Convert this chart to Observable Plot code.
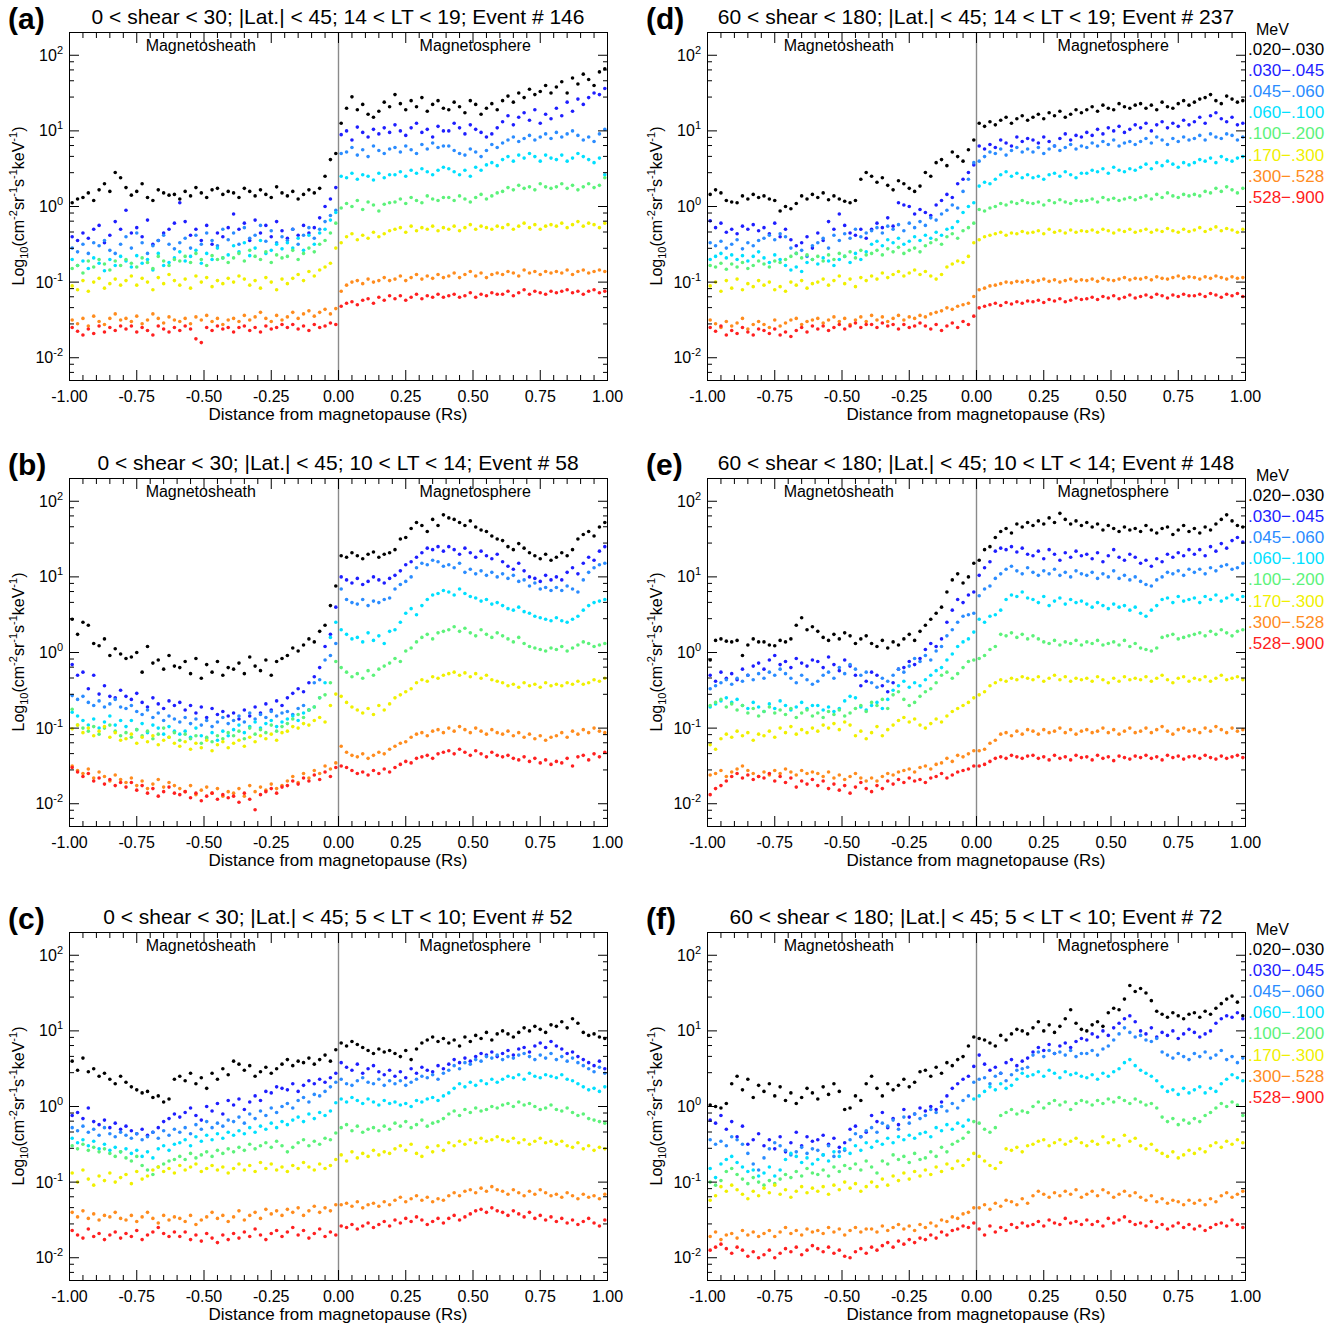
<!DOCTYPE html>
<html>
<head>
<meta charset="utf-8">
<script src="https://cdn.jsdelivr.net/npm/d3@7"></script>
<script src="https://cdn.jsdelivr.net/npm/@observablehq/plot@0.6"></script>
<style>
  body { margin: 0; background: #fff; }
  #fig { position: relative; width: 1340px; height: 1325px; }
  #fig svg { position: absolute; }
</style>
</head>
<body>
<div id="fig"></div>
<script>
// Electron flux binned by distance from the magnetopause (Rs), one row per energy band.
// Values are log10(flux) in hundredths of a decade, flux in cm^-2 sr^-1 s^-1 keV^-1.

const energyBands = [".020\u2212.030", ".030\u2212.045", ".045\u2212.060", ".060\u2212.100",
                     ".100\u2212.200", ".170\u2212.300", ".300\u2212.528", ".528\u2212.900"];
const bandColors = ["#000000", "#1e1eff", "#2a8cff", "#00e0ff", "#5cf27a", "#f0f000", "#ff8c1e", "#ff2020"];

const panelTags = ["(a)", "(b)", "(c)", "(d)", "(e)", "(f)"];
const panelTitles = [
  "0 < shear < 30; |Lat.| < 45; 14 < LT < 19; Event # 146",
  "0 < shear < 30; |Lat.| < 45; 10 < LT < 14; Event # 58",
  "0 < shear < 30; |Lat.| < 45; 5 < LT < 10; Event # 52",
  "60 < shear < 180; |Lat.| < 45; 14 < LT < 19; Event # 237",
  "60 < shear < 180; |Lat.| < 45; 10 < LT < 14; Event # 148",
  "60 < shear < 180; |Lat.| < 45; 5 < LT < 10; Event # 72"
];
const regionLabels = ["Magnetosheath", "Magnetosphere"];
const xTicks = [-1, -0.75, -0.5, -0.25, 0, 0.25, 0.5, 0.75, 1];
const yTicks = [0.01, 0.1, 1, 10, 100];
const yTickExponents = ["-2", "-1", "0", "1", "2"];

// (a) 0 < shear < 30, 14 < LT < 19
const fluxA = [
  [5,10,12,18,8,22,30,20,45,38, 25,15,20,30,12,8,22,18,15,16, 10,20,14,25,18,12,22,24,16,20, 18,12,24,20,14,22,16,12,26,18, 14,20,10,16,22,18,24,40,62,70,
   110,130,145,128,135,122,118,126,138,132, 148,136,128,140,132,144,126,135,140,130, 128,138,132,124,140,135,122,130,136,128, 140,146,138,150,144,155,148,152,160,150, 158,165,150,170,162,175,168,160,178,182],
  [-40,-45,-35,-42,-30,-25,-48,-38,-20,-30, -5,-35,-28,-40,-18,-50,-45,-35,-30,-22, 5,-20,-38,-30,-45,-25,-50,-35,-40,-28, -10,-30,-22,-45,-18,-35,-25,-40,-20,-32, -42,-30,-38,-25,-35,-28,-15,0,10,25,
   95,100,88,105,98,92,102,96,104,98, 108,100,94,104,110,98,102,92,106,100, 100,110,104,96,108,102,98,92,96,104, 112,120,108,118,124,114,128,110,122,116, 130,120,138,126,142,135,144,150,148,156],
  [-55,-60,-50,-62,-48,-52,-45,-58,-62,-50, -40,-55,-35,-48,-62,-52,-45,-38,-50,-56, -48,-42,-55,-38,-50,-35,-45,-52,-30,-44, -35,-50,-28,-42,-38,-25,-46,-32,-48,-40, -45,-30,-50,-38,-28,-42,-30,-20,-12,-5,
   70,72,78,68,75,66,80,74,70,76, 78,72,80,75,70,82,76,84,78,80, 80,74,70,68,76,72,66,74,82,78, 84,88,92,86,90,94,88,92,96,90, 98,92,96,100,94,88,92,86,96,102],
  [-70,-78,-72,-82,-68,-75,-85,-70,-78,-66, -72,-80,-65,-75,-70,-84,-62,-78,-74,-68, -60,-72,-66,-58,-75,-62,-70,-55,-68,-64, -52,-60,-48,-65,-55,-45,-62,-58,-50,-56, -48,-55,-42,-58,-38,-50,-35,-30,-18,-8,
   40,38,44,36,42,40,35,44,38,42, 42,46,40,48,44,50,46,42,48,52, 50,46,42,48,40,52,48,55,58,54, 62,66,60,68,64,70,66,60,68,64, 62,68,60,64,70,66,62,58,64,42],
  [-82,-78,-88,-72,-80,-70,-76,-84,-72,-78, -70,-75,-80,-68,-74,-82,-66,-72,-78,-70, -72,-66,-74,-62,-70,-78,-65,-70,-68,-74, -68,-62,-72,-58,-66,-70,-60,-74,-64,-68, -66,-58,-70,-62,-55,-60,-50,-45,-35,-22,
   -2,4,0,8,-4,6,2,-6,3,5, 6,10,4,12,8,5,14,10,8,12, 12,8,14,10,6,12,16,10,14,18, 20,25,22,28,24,26,22,30,26,24, 26,30,24,28,22,26,30,25,28,38],
  [-105,-110,-98,-112,-100,-95,-108,-102,-96,-104, -98,-92,-104,-95,-100,-110,-94,-102,-90,-98, -104,-96,-108,-92,-100,-94,-106,-98,-102,-95, -100,-92,-96,-104,-98,-108,-94,-100,-110,-96, -102,-95,-90,-98,-86,-92,-84,-80,-75,-55,
   -48,-40,-36,-44,-38,-42,-34,-40,-36,-32, -30,-28,-34,-26,-32,-28,-30,-26,-32,-28, -30,-26,-32,-28,-24,-30,-26,-28,-30,-26, -28,-24,-30,-26,-22,-28,-24,-30,-26,-24, -26,-22,-28,-24,-20,-26,-22,-24,-28,-22],
  [-150,-155,-148,-158,-145,-152,-156,-148,-142,-150, -148,-152,-145,-155,-150,-142,-148,-154,-146,-150, -152,-148,-155,-146,-150,-144,-152,-148,-156,-150, -148,-152,-144,-150,-146,-140,-148,-152,-144,-150, -146,-140,-148,-142,-138,-145,-140,-136,-142,-135,
   -112,-104,-100,-98,-102,-96,-100,-98,-94,-98, -96,-92,-98,-94,-90,-96,-92,-95,-90,-94, -92,-88,-94,-90,-86,-92,-88,-94,-90,-88, -90,-86,-88,-92,-84,-88,-86,-90,-86,-88, -86,-88,-84,-90,-86,-84,-88,-86,-84,-86],
  [-160,-165,-170,-162,-168,-158,-166,-160,-164,-158, -162,-158,-166,-160,-164,-170,-158,-162,-166,-160, -164,-158,-162,-175,-180,-160,-164,-158,-162,-160, -166,-160,-158,-164,-160,-166,-158,-162,-160,-156, -160,-156,-162,-158,-164,-156,-160,-158,-154,-156,
   -132,-128,-126,-130,-124,-122,-128,-120,-124,-118, -122,-118,-124,-120,-116,-122,-118,-120,-116,-120, -118,-116,-120,-118,-114,-120,-116,-118,-114,-116, -116,-112,-118,-114,-110,-116,-112,-114,-116,-112, -114,-112,-110,-114,-112,-116,-112,-110,-114,-112]
];

// (b) 0 < shear < 30, 10 < LT < 14
const fluxB = [
  [44,24,40,36,12,9,18,-4,5,-2, -8,-6,0,-26,8,-14,-10,-22,-4,-18, -20,-12,-28,-8,-34,-16,-26,-12,-30,-20, -22,-14,-28,-6,-18,-24,-10,-30,-12,-8, -4,6,2,10,18,14,28,36,62,88,
   128,126,132,128,124,130,133,126,130,132, 136,150,152,164,172,168,160,176,168,182, 178,176,172,168,174,166,162,160,154,150, 148,140,136,144,138,132,128,124,130,122, 126,132,128,136,150,156,160,154,166,172],
  [-16,-30,-26,-48,-30,-55,-44,-58,-60,-50, -58,-62,-54,-66,-72,-60,-68,-74,-64,-70, -66,-76,-70,-80,-72,-86,-74,-82,-78,-84, -80,-88,-76,-84,-72,-80,-68,-76,-64,-70, -60,-54,-48,-52,-40,-32,-20,8,24,60,
   100,96,92,98,90,94,100,96,92,98, 102,108,116,120,126,132,138,136,140,134, 140,136,130,138,132,126,134,128,124,130, 120,114,110,118,108,100,98,94,102,96, 100,96,106,112,104,118,126,122,134,140],
  [-57,-62,-58,-66,-70,-64,-72,-68,-62,-72, -74,-70,-78,-82,-76,-86,-80,-90,-84,-88, -92,-86,-94,-88,-96,-90,-98,-92,-86,-94, -90,-84,-92,-80,-88,-82,-86,-78,-84,-80, -78,-82,-74,-70,-76,-40,-36,-10,-4,12,
   84,70,66,64,70,62,68,66,70,72, 84,90,94,100,112,118,116,122,120,114, 116,112,118,106,110,104,108,102,106,100, 104,98,102,94,96,88,92,84,86,82, 86,82,88,84,80,96,106,112,116,118],
  [-79,-84,-90,-96,-88,-100,-92,-84,-96,-90, -98,-90,-102,-94,-106,-96,-100,-108,-98,-104, -108,-104,-112,-100,-110,-114,-106,-116,-104,-110, -102,-96,-106,-98,-92,-100,-94,-90,-98,-92, -88,-84,-90,-80,-76,-72,-60,-40,20,40,
   30,24,18,20,14,26,16,22,12,28, 30,40,52,58,50,62,70,76,78,82, 80,76,84,78,74,72,68,70,64,66, 62,58,56,60,54,52,48,46,44,42, 46,42,40,44,48,56,62,66,68,70],
  [-75,-96,-100,-104,-98,-108,-100,-96,-104,-110, -106,-112,-102,-110,-104,-114,-108,-100,-112,-106, -116,-108,-114,-110,-120,-112,-118,-110,-114,-106, -110,-104,-114,-100,-108,-102,-106,-96,-104,-98, -94,-88,-82,-86,-76,-72,-60,-56,-40,-12,
   -20,-26,-32,-28,-34,-24,-30,-22,-18,-14, -8,-12,2,6,14,20,24,18,26,28, 30,34,28,32,26,22,30,24,20,26, 22,18,14,20,12,8,6,4,2,6, 4,8,2,6,10,14,12,8,10,12],
  [-101,-96,-106,-100,-110,-104,-98,-112,-106,-116, -114,-108,-120,-112,-118,-110,-122,-116,-112,-120, -124,-118,-128,-120,-126,-116,-130,-122,-118,-126, -120,-116,-124,-112,-118,-110,-114,-108,-116,-106, -104,-98,-100,-94,-96,-90,-86,-92,-70,-55,
   -58,-66,-72,-76,-80,-74,-82,-70,-76,-68, -60,-56,-52,-48,-40,-36,-38,-32,-34,-30, -28,-26,-30,-27,-32,-28,-34,-30,-36,-38, -40,-44,-42,-46,-40,-44,-42,-46,-40,-44, -42,-44,-40,-42,-38,-42,-40,-36,-38,-34],
  [-150,-156,-160,-154,-166,-158,-164,-170,-162,-168, -172,-166,-176,-170,-180,-174,-168,-178,-172,-176, -180,-184,-176,-188,-182,-178,-186,-180,-190,-184, -186,-180,-190,-176,-184,-178,-182,-174,-180,-176, -170,-164,-172,-160,-166,-156,-160,-150,-154,-146,
   -124,-132,-136,-138,-134,-140,-136,-132,-134,-128, -124,-120,-118,-112,-108,-106,-110,-104,-102,-106, -100,-104,-98,-102,-106,-100,-104,-108,-102,-106, -108,-104,-110,-106,-112,-108,-114,-110,-116,-112, -110,-106,-112,-104,-108,-102,-106,-100,-104,-106],
  [-152,-158,-164,-160,-170,-166,-174,-168,-176,-172, -178,-172,-182,-176,-186,-180,-190,-184,-178,-186, -188,-184,-192,-186,-196,-190,-186,-194,-188,-192, -190,-198,-186,-194,-208,-188,-184,-180,-186,-178, -176,-170,-174,-166,-170,-162,-168,-158,-164,-152,
   -150,-152,-156,-160,-158,-162,-156,-160,-154,-158, -152,-148,-144,-146,-140,-138,-136,-140,-134,-132, -130,-134,-128,-132,-136,-130,-134,-138,-132,-136, -138,-136,-140,-142,-138,-144,-140,-146,-142,-148, -144,-146,-140,-150,-138,-136,-142,-134,-138,-132]
];

// (c) 0 < shear < 30, 5 < LT < 10
const fluxC = [
  [60,48,64,46,50,40,44,36,30,40, 32,26,22,18,20,12,14,6,10,36, 40,34,44,30,38,24,44,36,50,42, 60,56,48,54,40,46,52,44,50,56, 62,54,60,58,64,56,62,68,60,75,
   84,80,86,82,78,74,70,76,72,74, 70,66,74,62,76,84,88,92,86,90, 84,88,80,92,86,94,90,98,88,96, 100,96,92,98,104,100,106,102,98,108, 106,112,104,116,110,98,94,96,92,90],
  [-12,-8,-16,-2,-20,-24,-18,-28,-22,-30, -26,-32,-36,-30,-38,-34,-28,-20,-16,-10, -14,-8,-2,-12,-18,0,-6,4,-10,8, 2,10,-4,6,14,8,20,18,26,24, 22,30,20,28,34,30,36,32,38,44,
   58,52,48,56,44,50,54,46,42,48, 40,46,38,50,44,52,48,46,54,50, 56,62,58,64,60,66,70,68,72,66, 70,74,68,76,78,72,80,84,78,86, 80,76,70,72,66,62,58,54,60,50],
  [-28,-32,-26,-34,-30,-38,-28,-36,-40,-34, -38,-42,-36,-44,-40,-34,-42,-32,-38,-30, -34,-28,-36,-24,-30,-20,-28,-22,-26,-18, -20,-14,-22,-10,-16,-6,-12,-2,-8,0, 4,-2,8,12,6,16,14,20,26,32,
   36,30,28,34,38,32,30,36,28,34, 30,34,28,32,36,40,38,42,36,44, 48,54,50,58,56,62,60,66,64,68, 62,66,64,68,70,66,62,68,64,70, 62,66,60,64,58,54,50,46,52,44],
  [-42,-48,-44,-52,-46,-56,-50,-58,-54,-60, -56,-62,-58,-66,-60,-68,-56,-52,-58,-50, -48,-44,-52,-40,-46,-38,-44,-36,-42,-34, -38,-32,-36,-28,-34,-26,-30,-22,-28,-20, -24,-18,-14,-20,-10,-16,-8,-12,-6,5,
   10,6,12,8,4,10,6,2,8,4, 6,2,4,0,8,6,10,12,8,14, 18,24,30,26,32,28,34,30,36,32, 36,40,38,42,36,44,40,38,42,40, 38,42,36,34,30,26,22,24,20,26],
  [-52,-56,-50,-58,-54,-60,-56,-62,-66,-60, -68,-72,-66,-78,-84,-90,-80,-76,-72,-70, -66,-70,-62,-68,-64,-60,-66,-58,-62,-56, -60,-54,-58,-50,-56,-52,-48,-54,-46,-52, -60,-54,-48,-44,-52,-46,-50,-42,-44,-35,
   -28,-24,-32,-26,-34,-30,-28,-32,-26,-30, -22,-26,-20,-28,-24,-18,-26,-22,-20,-16, -10,-6,-12,-4,-8,-2,-6,-4,0,-2, 2,4,0,6,2,4,0,-4,-2,2, -4,-6,-2,-8,-12,-10,-16,-18,-20,-22],
  [-88,-100,-84,-96,-104,-92,-98,-88,-100,-94, -90,-102,-86,-96,-92,-84,-80,-86,-82,-88, -78,-84,-80,-76,-86,-82,-78,-84,-80,-88, -82,-76,-84,-78,-86,-74,-82,-76,-84,-80, -86,-78,-82,-74,-80,-84,-76,-82,-78,-70,
   -64,-72,-60,-68,-62,-66,-58,-64,-60,-62, -56,-52,-58,-50,-62,-66,-54,-60,-52,-58, -48,-52,-46,-50,-44,-48,-42,-46,-44,-40, -44,-46,-42,-48,-44,-50,-46,-42,-48,-46, -50,-46,-52,-54,-48,-56,-52,-58,-54,-56],
  [-140,-146,-138,-148,-142,-150,-144,-146,-140,-148, -150,-144,-152,-146,-140,-148,-154,-144,-150,-146, -148,-152,-144,-156,-150,-146,-140,-148,-144,-152, -146,-138,-150,-144,-140,-148,-136,-142,-138,-144, -136,-140,-134,-144,-138,-132,-140,-134,-138,-130,
   -130,-128,-132,-126,-134,-130,-128,-132,-126,-130, -124,-120,-126,-122,-118,-124,-120,-126,-122,-124, -118,-114,-118,-112,-110,-114,-108,-112,-106,-110, -112,-116,-110,-114,-118,-112,-116,-110,-114,-118, -116,-120,-114,-118,-122,-116,-120,-118,-122,-116],
  [-164,-170,-174,-162,-172,-168,-176,-170,-166,-174, -168,-172,-164,-176,-170,-166,-160,-168,-172,-166, -172,-166,-176,-170,-178,-168,-174,-180,-170,-176, -168,-174,-166,-172,-162,-170,-176,-168,-164,-172, -166,-160,-170,-164,-174,-168,-162,-172,-166,-170,
   -158,-160,-156,-162,-158,-154,-160,-156,-152,-158, -150,-154,-148,-152,-146,-150,-156,-152,-148,-154, -148,-144,-150,-146,-142,-138,-136,-140,-134,-138, -140,-144,-138,-142,-146,-140,-148,-144,-150,-146, -152,-148,-154,-150,-156,-152,-148,-154,-158,-150]
];

// (d) 60 < shear < 180, 14 < LT < 19
const fluxD = [
  [16,22,18,8,6,5,14,10,16,12, 14,10,8,-6,0,-3,4,14,10,16, 12,18,9,14,10,7,5,8,36,45, 40,32,38,28,22,34,30,24,20,27, 45,40,58,62,54,72,66,60,75,88,
   110,106,112,108,114,118,110,116,120,114, 118,122,116,124,120,126,118,122,128,124, 128,132,126,134,130,128,136,132,130,134, 136,130,134,128,138,132,130,136,140,134, 138,142,144,148,140,136,146,142,138,140],
  [-19,-28,-22,-34,-30,-36,-26,-30,-24,-32, -28,-36,-22,-40,-30,-44,-52,-48,-40,-55, -35,-45,-20,-30,-10,-25,-35,-38,-30,-42, -30,-22,-28,-15,-26,5,2,0,-10,-4, -8,-12,2,8,16,12,30,36,45,55,
   80,76,82,78,88,84,80,92,86,90, 88,84,92,86,80,90,96,88,94,92, 98,94,102,96,104,100,106,98,102,108, 104,110,100,108,112,104,110,106,114,108, 112,118,110,120,124,116,112,118,108,110],
  [-48,-52,-46,-55,-50,-44,-56,-48,-52,-45, -42,-38,-44,-36,-40,-55,-62,-58,-66,-52, -48,-42,-55,-38,-45,-36,-42,-30,-40,-35, -32,-28,-35,-26,-30,-24,-32,-22,-28,-20, -25,-15,-18,-10,-5,2,-2,20,36,58,
   60,66,72,70,76,68,74,78,72,76, 72,78,70,76,80,74,78,82,76,80, 78,84,80,86,82,88,80,84,86,82, 86,90,84,92,88,82,90,86,92,88, 90,94,88,96,92,90,96,94,88,92],
  [-70,-66,-62,-68,-64,-70,-65,-72,-66,-60, -68,-74,-64,-70,-78,-84,-80,-86,-74,-70, -76,-68,-72,-78,-70,-66,-74,-62,-70,-60, -50,-46,-52,-44,-48,-42,-50,-46,-40,-45, -38,-42,-34,-38,-30,-28,-20,-8,0,5,
   27,32,30,36,42,46,40,44,38,42, 38,40,36,42,44,40,46,42,38,44, 44,48,46,50,44,52,48,46,50,48, 52,56,50,58,54,60,56,52,58,55, 58,62,60,64,58,66,62,60,64,66],
  [-78,-80,-75,-83,-76,-80,-74,-82,-78,-72, -76,-80,-72,-74,-70,-66,-62,-68,-64,-70, -66,-72,-64,-70,-62,-66,-60,-68,-58,-64, -62,-58,-64,-56,-60,-54,-62,-58,-55,-60, -52,-48,-44,-50,-40,-36,-42,-32,-28,-22,
   -4,-6,-2,0,4,2,6,4,8,5, 4,6,2,8,5,9,6,4,8,7, 8,10,6,12,9,11,8,10,12,9, 12,14,10,16,12,18,14,12,16,14, 16,14,20,18,24,20,26,22,18,24],
  [-105,-100,-112,-98,-108,-96,-110,-102,-106,-98, -104,-100,-110,-106,-112,-100,-104,-98,-108,-102, -100,-96,-104,-98,-92,-102,-96,-106,-94,-98, -92,-96,-88,-94,-90,-86,-92,-88,-84,-90, -86,-92,-96,-90,-80,-76,-72,-74,-66,-48,
   -44,-40,-38,-36,-34,-38,-35,-36,-33,-35, -34,-32,-36,-30,-34,-32,-35,-31,-34,-32, -33,-31,-34,-30,-32,-35,-31,-33,-30,-34, -32,-30,-34,-31,-33,-29,-32,-34,-30,-33, -31,-28,-33,-30,-27,-32,-29,-31,-34,-30],
  [-150,-155,-160,-152,-158,-154,-148,-162,-156,-152, -156,-160,-150,-158,-154,-150,-148,-156,-152,-150, -148,-154,-150,-146,-152,-148,-156,-150,-146,-152, -144,-150,-146,-152,-148,-144,-150,-146,-148,-144, -146,-142,-140,-138,-134,-136,-132,-130,-128,-119,
   -110,-108,-105,-104,-102,-100,-101,-99,-100,-98, -100,-98,-96,-99,-97,-100,-98,-96,-99,-97, -98,-96,-99,-95,-97,-98,-96,-94,-97,-95, -96,-94,-97,-93,-95,-96,-94,-92,-95,-93, -94,-96,-93,-95,-92,-94,-96,-93,-95,-94],
  [-160,-165,-158,-170,-164,-168,-160,-166,-170,-162, -164,-168,-162,-170,-166,-172,-164,-160,-166,-158, -162,-158,-164,-160,-156,-162,-158,-154,-160,-156, -156,-160,-154,-158,-156,-162,-156,-160,-158,-154, -158,-162,-156,-164,-158,-154,-160,-152,-156,-145,
   -134,-132,-130,-128,-131,-127,-129,-126,-128,-125, -126,-124,-127,-123,-125,-122,-126,-124,-121,-123, -122,-120,-123,-119,-121,-118,-122,-120,-117,-121, -119,-117,-120,-116,-118,-121,-117,-119,-116,-118, -118,-116,-119,-115,-117,-120,-116,-118,-115,-119]
];

// (e) 60 < shear < 180, 10 < LT < 14
const fluxE = [
  [-10,16,18,15,14,16,-4,10,18,14, 14,10,9,16,14,18,36,46,30,34, 28,20,16,24,18,26,22,12,18,22, 12,8,16,6,14,10,18,24,16,28, 36,44,52,60,80,96,104,92,100,118,
   122,136,140,152,160,164,158,170,166,172, 168,174,170,178,172,184,176,170,174,168, 172,166,170,162,168,164,160,166,162,164, 160,168,162,158,164,166,156,162,168,160, 164,158,166,162,170,176,182,174,168,166],
  [-30,-38,-26,-34,-28,-36,-22,-30,-18,-14, -22,-10,-4,-16,-12,-20,-8,-14,-18,-10, -12,-20,-6,-16,-24,-10,-18,-30,-44,-38, -26,-30,-44,-52,-40,-22,-20,-12,-16,-8, 4,12,8,18,40,56,70,66,76,80,
   102,112,120,134,138,136,140,133,138,130, 128,134,124,136,130,122,132,126,134,128, 130,124,132,120,128,136,126,122,130,126, 118,122,114,124,120,130,126,132,128,136, 130,136,128,140,134,144,138,148,152,146],
  [-48,-44,-40,-36,-42,-34,-38,-30,-36,-28, -34,-26,-30,-22,-28,-34,-40,-30,-36,-42, -38,-30,-26,-34,-20,-28,-16,-22,-30,-26, -40,-46,-34,-38,-30,-22,-26,-18,-8,-12, -4,-10,2,8,22,30,40,48,50,52,
   75,84,88,98,104,110,114,108,104,112, 106,102,108,104,110,102,106,100,108,104, 102,106,98,104,100,108,98,102,96,100, 94,90,88,96,100,106,104,108,102,110, 106,110,104,112,108,114,116,110,112,118],
  [-72,-68,-64,-60,-66,-62,-70,-74,-66,-72, -78,-68,-74,-64,-70,-76,-72,-66,-74,-70, -70,-76,-72,-78,-74,-64,-58,-60,-72,-76, -70,-66,-74,-62,-50,-44,-38,-46,-40,-44, -36,-30,-24,-20,-10,-2,8,14,18,27,
   44,40,48,50,56,70,76,74,80,72, 70,66,74,62,68,72,64,70,66,68, 64,60,66,62,58,64,60,62,56,60, 52,48,56,62,70,72,66,74,68,70, 72,66,74,70,76,68,72,76,70,74],
  [-70,-66,-62,-72,-68,-76,-70,-80,-74,-84, -78,-72,-80,-76,-82,-74,-86,-80,-76,-84, -80,-86,-78,-82,-76,-84,-80,-74,-70,-78, -66,-70,-62,-74,-56,-52,-62,-70,-66,-58, -52,-48,-40,-30,-26,-34,-28,-20,-12,-10,
   -8,-4,4,8,24,22,26,20,24,18, 22,18,14,12,16,10,14,12,16,10, 14,12,16,10,12,14,10,16,8,12, 6,4,2,6,20,22,24,18,20,22, 24,26,22,28,24,30,26,22,28,30],
  [-122,-128,-114,-108,-112,-104,-110,-106,-116,-108, -110,-104,-112,-100,-106,-98,-108,-102,-106,-100, -104,-96,-100,-94,-102,-92,-96,-110,-104,-114, -106,-98,-110,-102,-96,-90,-86,-92,-88,-96, -100,-94,-88,-92,-84,-78,-74,-70,-66,-60,
   -56,-52,-44,-40,-36,-38,-34,-36,-32,-34, -36,-32,-38,-34,-30,-36,-32,-38,-34,-36, -34,-38,-32,-36,-40,-34,-38,-32,-36,-34, -36,-32,-38,-34,-30,-36,-40,-34,-32,-38, -34,-36,-32,-38,-34,-30,-36,-34,-32,-36],
  [-162,-160,-156,-164,-158,-154,-150,-156,-160,-164, -158,-162,-156,-160,-154,-158,-162,-156,-160,-158, -160,-164,-158,-166,-162,-168,-164,-160,-166,-170, -166,-170,-164,-160,-162,-158,-156,-154,-158,-152, -150,-154,-148,-146,-140,-144,-136,-138,-134,-130,
   -130,-128,-120,-116,-108,-106,-110,-104,-108,-102, -104,-108,-102,-106,-104,-100,-106,-102,-108,-104, -102,-106,-104,-100,-106,-102,-108,-104,-100,-106, -104,-100,-106,-102,-98,-104,-108,-102,-100,-104, -102,-106,-100,-104,-98,-102,-106,-100,-104,-102],
  [-188,-180,-176,-170,-164,-160,-166,-162,-168,-164, -166,-160,-170,-164,-172,-166,-178,-170,-174,-168, -176,-170,-180,-174,-182,-176,-186,-178,-172,-180, -184,-176,-180,-170,-174,-168,-172,-166,-170,-168, -172,-166,-164,-160,-166,-162,-158,-156,-154,-150,
   -150,-148,-144,-140,-138,-140,-136,-138,-140,-137, -136,-140,-138,-142,-136,-140,-138,-142,-136,-139, -138,-142,-136,-140,-138,-143,-137,-139,-141,-137, -139,-136,-140,-138,-142,-136,-139,-137,-141,-138, -137,-140,-136,-139,-141,-137,-140,-138,-136,-139]
];

// (f) 60 < shear < 180, 5 < LT < 10
const fluxF = [
  [2,0,-2,4,30,40,22,36,12,28, 20,30,14,26,8,18,4,12,24,18, 10,26,16,30,20,-4,-2,14,8,30, 40,24,14,30,22,28,36,26,32,46, 48,40,52,44,58,54,62,66,80,92,
   90,88,84,80,94,88,96,102,100,96, 104,112,100,108,98,106,116,128,110,102, 100,108,112,106,124,130,128,142,160,152, 156,150,140,126,122,118,124,120,116,122, 124,118,126,122,130,136,142,146,138,120],
  [-18,-22,-12,-30,-20,-40,-26,-50,-44,-36, -52,-44,-56,-40,-60,-48,-34,-52,-40,-46, -44,-38,-50,-42,-54,-48,-30,-26,-40,-34, -12,-20,-8,-28,-16,-24,-4,-14,-10,-2, -6,0,-4,6,14,24,30,36,40,53,
   68,56,48,52,44,58,62,54,60,64, 72,78,74,82,70,80,84,78,86,90, 88,96,92,100,94,104,110,116,120,112, 100,96,104,92,98,94,100,90,96,102, 98,92,96,100,110,116,120,118,124,116],
  [-44,-50,-46,-52,-40,-44,-50,-62,-76,-84, -68,-56,-48,-52,-58,-64,-60,-54,-62,-56, -58,-64,-52,-66,-60,-58,-44,-36,-40,-32, -28,-34,-22,-26,-18,-30,-14,-22,-10,-16, -12,-4,-8,0,-6,4,-2,8,14,32,
   36,38,30,40,44,34,42,48,50,52, 68,72,66,74,70,72,68,74,66,70, 70,74,68,76,80,88,96,104,98,92, 94,88,86,90,72,68,64,70,66,62, 70,66,72,64,68,74,62,66,58,64],
  [-82,-94,-76,-70,-66,-74,-80,-86,-84,-92, -88,-80,-92,-84,-70,-62,-66,-74,-68,-76, -70,-64,-72,-60,-66,-56,-62,-52,-58,-48, -54,-46,-50,-42,-48,-40,-44,-38,-42,-36, -34,-40,-28,-32,-24,-30,-22,-26,-18,10,
   14,20,26,22,30,24,28,36,44,40, 42,46,40,48,44,38,46,42,44,40, 38,42,36,44,40,46,50,58,62,54, 48,44,40,34,26,20,22,16,24,18, 22,26,18,24,20,30,36,42,38,34],
  [-100,-104,-98,-86,-82,-90,-96,-102,-94,-100, -104,-98,-102,-96,-90,-94,-86,-92,-82,-88, -90,-84,-92,-80,-86,-78,-82,-76,-84,-72, -80,-88,-72,-76,-64,-70,-66,-74,-62,-70, -68,-60,-66,-54,-60,-50,-46,-42,-34,-20,
   -22,-30,-34,-28,-12,-8,-4,-10,-6,-8, 0,6,-2,4,8,2,6,-4,4,8, 6,2,8,4,10,6,12,8,4,10, 6,2,4,-2,-14,-20,-16,-24,-18,-22, -16,-20,-12,-8,-2,4,0,6,2,-12],
  [-124,-118,-106,-112,-104,-110,-116,-122,-112,-118, -108,-114,-104,-116,-110,-120,-112,-106,-114,-108, -112,-106,-116,-104,-110,-100,-108,-102,-112,-106, -100,-106,-96,-104,-92,-98,-88,-96,-86,-92, -84,-90,-80,-86,-76,-82,-72,-78,-70,-62,
   -66,-72,-78,-82,-74,-56,-58,-54,-60,-52, -50,-46,-44,-52,-48,-44,-50,-46,-42,-48, -52,-46,-50,-40,-48,-44,-52,-38,-46,-42, -52,-56,-50,-58,-62,-66,-60,-68,-64,-58, -62,-56,-60,-52,-48,-54,-46,-50,-44,-48],
  [-172,-166,-176,-170,-168,-174,-164,-170,-166,-172, -168,-164,-172,-166,-160,-168,-164,-170,-162,-166, -164,-168,-160,-166,-162,-170,-164,-160,-166,-162, -162,-166,-158,-164,-160,-156,-162,-158,-164,-156, -160,-154,-158,-150,-152,-146,-148,-142,-140,-134,
   -134,-130,-136,-128,-132,-124,-126,-130,-122,-128, -118,-112,-116,-120,-114,-118,-112,-116,-110,-120, -116,-112,-118,-110,-114,-120,-116,-112,-118,-114, -120,-124,-118,-126,-122,-128,-124,-126,-130,-124, -128,-124,-130,-122,-126,-118,-114,-120,-116,-112],
  [-190,-186,-182,-188,-194,-186,-190,-198,-192,-200, -196,-190,-200,-194,-188,-192,-186,-196,-190,-184, -188,-192,-186,-194,-190,-198,-200,-192,-188,-194, -186,-190,-184,-180,-186,-178,-182,-176,-180,-174, -176,-170,-174,-166,-170,-164,-162,-158,-160,-154,
   -162,-170,-158,-166,-160,-164,-156,-160,-154,-158, -156,-152,-158,-150,-154,-156,-148,-154,-152,-156, -150,-156,-152,-158,-148,-154,-150,-146,-152,-156, -154,-158,-152,-160,-156,-162,-158,-154,-160,-156, -162,-158,-164,-160,-156,-154,-158,-150,-156,-160]
];

// ---- layout and drawing ----
const FONT = "'Liberation Sans', Arial, Helvetica, sans-serif";
const panels = [fluxA, fluxB, fluxC, fluxD, fluxE, fluxF];
const plotTops = [32, 478, 932];
const columnLefts = [0, 638];
const W = 620, ML = 69, MR = 13, MT = 4, MB = 48, PH = 348;
const PW = W - ML - MR;

const xMinor = d3.range(-20, 21).map(i => i / 20).filter(v => !xTicks.includes(v));
const yMinor = [];
for (let e = -3; e <= 2; e++) for (const m of [2.8, 4.6, 6.4, 8.2]) {
  const v = m * 10 ** e;
  if (v > 0.005 && v < 200) yMinor.push(v);
}

const fig = document.getElementById("fig");
const noText = () => "";

panels.forEach((flux, p) => {
  const col = p < 3 ? 0 : 1, row = p % 3;
  const rows = flux.flatMap((series, s) =>
    series.map((v, k) => ({
      distance: -1 + (k + 0.5) * 2 / series.length,
      flux: 10 ** (v / 100),
      band: energyBands[s]
    })));

  const tick = (data, anchor, size) =>
    (anchor === "left" || anchor === "right" ? Plot.axisY : Plot.axisX)(data, {
      anchor, tickSize: -size, tickFormat: noText, label: null, stroke: "#000"
    });

  const chart = Plot.plot({
    width: W, height: MT + PH + MB,
    marginLeft: ML, marginRight: MR, marginTop: MT, marginBottom: MB,
    style: {fontFamily: FONT, fontSize: "16px", color: "#000", overflow: "visible", background: "transparent"},
    x: {domain: [-1, 1]},
    y: {type: "log", domain: [0.005, 200]},
    color: {domain: energyBands, range: bandColors},
    marks: [
      Plot.ruleX([0], {stroke: "#8a8a8a", strokeWidth: 1.4}),
      Plot.dot(rows, {x: "distance", y: "flux", fill: "band", r: 1.8}),
      tick(xTicks, "bottom", 10), tick(xTicks, "top", 10),
      tick(xMinor, "bottom", 5), tick(xMinor, "top", 5),
      tick(yTicks, "left", 10), tick(yTicks, "right", 10),
      tick(yMinor, "left", 5), tick(yMinor, "right", 5),
      Plot.axisX(xTicks, {anchor: "bottom", tickSize: 0, tickPadding: 10,
        tickFormat: d => d.toFixed(2), label: null, fontSize: 16}),
      Plot.frame({stroke: "#000"})
    ]
  });
  chart.style.left = columnLefts[col] + "px";
  chart.style.top = (plotTops[row] - MT) + "px";
  fig.appendChild(chart);

  const svg = d3.select(chart);
  const xs = chart.scale("x"), ys = chart.scale("y");

  // y tick labels as powers of ten
  yTicks.forEach((v, i) => {
    const t = svg.append("text")
      .attr("x", ML - 6).attr("y", ys.apply(v) + 6)
      .attr("text-anchor", "end").attr("font-size", 16).attr("fill", "#000");
    t.append("tspan").text("10");
    t.append("tspan").attr("dy", -7).attr("font-size", 11).text(yTickExponents[i]);
  });

  // rotated y-axis title with subscript and superscripts
  const yt = svg.append("text")
    .attr("transform", `translate(24,${MT + PH / 2}) rotate(-90)`)
    .attr("text-anchor", "middle").attr("font-size", 16).attr("fill", "#000");
  const part = (txt, dy, small) => {
    const s = yt.append("tspan").text(txt);
    if (dy) s.attr("dy", dy);
    if (small) s.attr("font-size", 11);
  };
  part("Log"); part("10", 4, true); part("(cm", -4);
  part("-2", -7, true); part("sr", 7);
  part("-1", -7, true); part("s", 7);
  part("-1", -7, true); part("keV", 7);
  part("-1", -7, true); part(")", 7);

  // x-axis title
  svg.append("text")
    .attr("x", ML + PW / 2).attr("y", MT + PH + 40)
    .attr("text-anchor", "middle").attr("font-size", 17).attr("fill", "#000")
    .text("Distance from magnetopause (Rs)");

  // region labels centred on each half of the frame
  regionLabels.forEach((lab, i) => {
    svg.append("text")
      .attr("x", xs.apply(i === 0 ? -0.51 : 0.51)).attr("y", MT + 19)
      .attr("text-anchor", "middle").attr("font-size", 16).attr("fill", "#000")
      .text(lab);
  });
});

// titles, panel tags and the energy legend on a page-wide layer
const overlay = d3.select(fig).append("svg")
  .attr("width", 1340).attr("height", 1325)
  .style("left", "0px").style("top", "0px")
  .style("pointer-events", "none")
  .style("font-family", FONT);

panels.forEach((_, p) => {
  const col = p < 3 ? 0 : 1, row = p % 3;
  const left = columnLefts[col], top = plotTops[row];
  overlay.append("text")
    .attr("x", left + 8).attr("y", top - 3)
    .attr("font-size", 30).attr("font-weight", "bold").attr("fill", "#000")
    .text(panelTags[p]);
  overlay.append("text")
    .attr("x", left + ML + PW / 2).attr("y", top - 8)
    .attr("text-anchor", "middle").attr("font-size", 21).attr("fill", "#000")
    .text(panelTitles[p]);
  if (col === 1) {
    const lx = left + ML + PW + 3;
    overlay.append("text")
      .attr("x", lx + 8).attr("y", top + 3)
      .attr("font-size", 16).attr("fill", "#000").text("MeV");
    energyBands.forEach((band, s) => {
      overlay.append("text")
        .attr("x", lx).attr("y", top + 23 + s * 21.1)
        .attr("font-size", 17).attr("fill", bandColors[s])
        .text(band);
    });
  }
});
</script>
</body>
</html>
